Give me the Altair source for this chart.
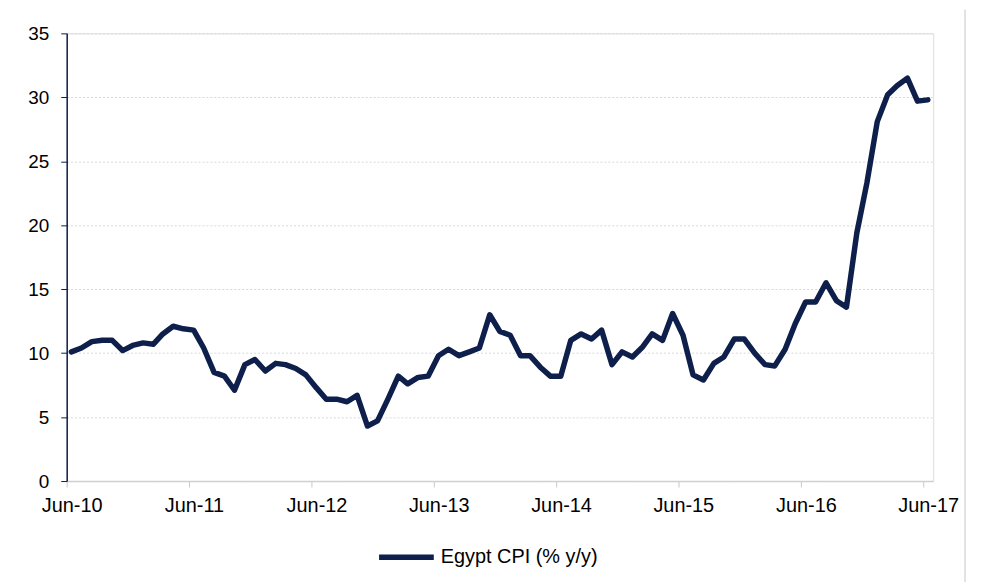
import altair as alt
import pandas as pd

# Monthly Egypt CPI (% y/y), Jun-2010 .. Jun-2017 (85 months)
start_month = "2010-06-01"
n_months = 85
cpi = [
    10.1, 10.4, 10.9, 11.0, 11.0, 10.2, 10.6, 10.8, 10.7, 11.5, 12.1, 11.9,
    11.8, 10.4, 8.5, 8.2, 7.1, 9.1, 9.5, 8.6, 9.2, 9.1, 8.8, 8.3,
    7.3, 6.4, 6.4, 6.2, 6.7, 4.3, 4.7, 6.4, 8.2, 7.6, 8.1, 8.2,
    9.8, 10.3, 9.8, 10.1, 10.4, 13.0, 11.7, 11.4, 9.8, 9.8, 8.9, 8.2,
    8.2, 11.0, 11.5, 11.1, 11.8, 9.1, 10.1, 9.7, 10.5, 11.5, 11.0, 13.1,
    11.4, 8.3, 7.9, 9.2, 9.7, 11.1, 11.1, 10.0, 9.1, 9.0, 10.3, 12.3,
    14.0, 14.0, 15.5, 14.1, 13.6, 19.4, 23.3, 28.1, 30.2, 30.9, 31.5, 29.7,
    29.8,
]
series_name = "Egypt CPI (% y/y)"
tick_dates = ["2010-06-01", "2011-06-01", "2012-06-01", "2013-06-01",
              "2014-06-01", "2015-06-01", "2016-06-01", "2017-06-01"]
x_domain = ["2010-06-01", "2017-07-01"]
y_ticks = [0, 5, 10, 15, 20, 25, 30, 35]

months = pd.date_range(start_month, periods=n_months, freq="MS") + pd.Timedelta(days=14)
df = pd.DataFrame({"date": months, "cpi": cpi, "series": series_name})

NAVY = "#0d1f4a"
FONT = "Liberation Sans"

line = alt.Chart(df).mark_line(
    strokeWidth=5.5, strokeCap="round", strokeJoin="round"
).encode(
    x=alt.X(
        "date:T",
        scale=alt.Scale(domain=x_domain),
        axis=alt.Axis(
            title=None, values=tick_dates, format="%b-%y", labelOffset=5,
            labelFlush=False, labelOverlap=False, labelBound=False,
            grid=False, domainColor="#d0d0d0", domainWidth=1.5,
            tickColor="#c8c8c8", tickSize=6, labelPadding=9,
            labelFontSize=20, labelColor="#000000", labelFont=FONT,
            labelAngle=0,
        ),
    ),
    y=alt.Y(
        "cpi:Q",
        scale=alt.Scale(domain=[0, 35], nice=False),
        axis=alt.Axis(
            title=None, values=y_ticks, grid=True, gridColor="#d9d9d9",
            gridDash=[2, 2], gridWidth=1, domainColor=NAVY, domainWidth=1.5,
            tickColor=NAVY, tickSize=6, labelPadding=12,
            labelFontSize=19, labelColor="#000000", labelFont=FONT,
        ),
    ),
    color=alt.Color(
        "series:N",
        scale=alt.Scale(range=[NAVY]),
        legend=alt.Legend(
            title=None, orient="none", legendX=311, legendY=496,
            symbolType="stroke", symbolSize=3025, symbolStrokeWidth=5.5,
            symbolStrokeColor=NAVY, labelFontSize=20, labelFont=FONT,
            labelColor="#000000", labelOffset=4, padding=0,
        ),
    ),
)

border = alt.Chart(pd.DataFrame({"d": [0]})).mark_rule(
    color="#d9d9d9", strokeWidth=1.5
).encode(x=alt.value(903), y=alt.value(-24), y2=alt.value(560))

chart = alt.layer(line, border).properties(
    width=871, height=450,
    autosize=alt.AutoSizeParams(type="none"),
    padding={"left": 59, "top": 24, "right": 40, "bottom": 100},
).configure_view(stroke=None).configure(background="white")

chart.save("out.html", embed_options={"renderer": "svg", "actions": False})
